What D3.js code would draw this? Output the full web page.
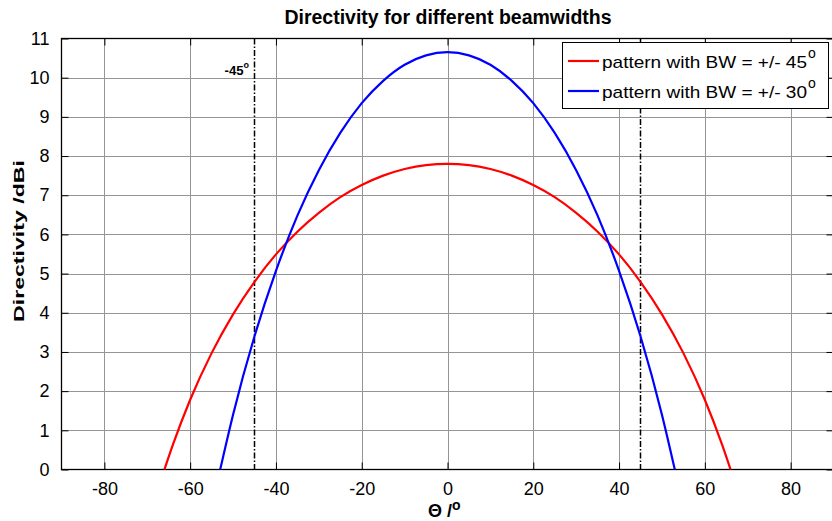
<!DOCTYPE html>
<html>
<head>
<meta charset="utf-8">
<script src="https://cdn.jsdelivr.net/npm/d3@7"></script>
<style>
  body { margin: 0; background: #fff; }
  text { font-family: Arial, "Liberation Sans", sans-serif; fill: #000; }
</style>
</head>
<body>
<script>
// values
const thetaRed = [-66, -64, -60, -55, -50, -45, -40, -35, -30, -25, -20, -15, -10, -5, 0,
                  5, 10, 15, 20, 25, 30, 35, 40, 45, 50, 55, 60, 64, 66];
const dirRed   = [0, 0.64, 1.78, 2.97, 3.96, 4.79, 5.49, 6.07, 6.55, 6.95, 7.26, 7.50, 7.67, 7.77, 7.80,
                  7.77, 7.67, 7.50, 7.26, 6.95, 6.55, 6.07, 5.49, 4.79, 3.96, 2.97, 1.78, 0.64, 0];
const thetaBlue = [-53, -50, -45, -40, -35, -30, -25, -20, -15, -10, -5, 0,
                   5, 10, 15, 20, 25, 30, 35, 40, 45, 50, 53];
const dirBlue   = [0, 1.40, 3.40, 5.07, 6.48, 7.64, 8.59, 9.35, 9.92, 10.33, 10.57, 10.65,
                   10.57, 10.33, 9.92, 9.35, 8.59, 7.64, 6.48, 5.07, 3.40, 1.40, 0];
const xTicks = [-80, -60, -40, -20, 0, 20, 40, 60, 80];
const yTicks = [0, 1, 2, 3, 4, 5, 6, 7, 8, 9, 10, 11];
const markers = [-45, 45];
const legendLabels = ["pattern with BW = +/- 45", "pattern with BW = +/- 30"];

const W = 832, H = 521;
const plotL = 61.5, plotR = 833.5, plotT = 38.5, plotB = 469.5;

const svg = d3.select("body").append("svg")
    .attr("width", W)
    .attr("height", H);

const x = d3.scaleLinear().domain([-90, 90]).range([plotL, plotR]);
const y = d3.scaleLinear().domain([0, 11]).range([plotB, plotT]);

// grid
const grid = svg.append("g").attr("stroke", "#959595").attr("stroke-width", 1);
grid.selectAll(".gx").data(xTicks).enter().append("line")
    .attr("x1", d => Math.round(x(d)) + 0.5).attr("x2", d => Math.round(x(d)) + 0.5)
    .attr("y1", plotT).attr("y2", plotB);
grid.selectAll(".gy").data(yTicks.slice(1, -1)).enter().append("line")
    .attr("x1", plotL).attr("x2", plotR)
    .attr("y1", d => Math.round(y(d)) + 0.5).attr("y2", d => Math.round(y(d)) + 0.5);

// axes (ticks pointing inward), plain hyphen for negatives
const tl = 7;
const fmt = d => String(d);
svg.append("g").attr("transform", "translate(0," + plotB + ")")
    .call(d3.axisBottom(x).tickValues(xTicks).tickFormat(fmt).tickSize(-tl).tickPadding(tl + 6).tickSizeOuter(0))
    .call(g => g.select(".domain").remove());
svg.append("g").attr("transform", "translate(0," + plotT + ")")
    .call(d3.axisTop(x).tickValues(xTicks).tickSize(-tl).tickFormat("").tickSizeOuter(0))
    .call(g => g.select(".domain").remove());
svg.append("g").attr("transform", "translate(" + plotL + ",0)")
    .call(d3.axisLeft(y).tickValues(yTicks).tickFormat(fmt).tickSize(-tl).tickPadding(tl + 5).tickSizeOuter(0))
    .call(g => g.select(".domain").remove());
svg.append("g").attr("transform", "translate(" + plotR + ",0)")
    .call(d3.axisRight(y).tickValues(yTicks).tickSize(-tl).tickFormat("").tickSizeOuter(0))
    .call(g => g.select(".domain").remove());

svg.selectAll(".tick line").attr("stroke", "#000");
svg.selectAll(".tick text")
    .attr("font-size", "18px")
    .style("font-family", "Arial, 'Liberation Sans', sans-serif");

// frame
svg.append("rect")
    .attr("x", plotL).attr("y", plotT)
    .attr("width", plotR - plotL).attr("height", plotB - plotT)
    .attr("fill", "none").attr("stroke", "#000").attr("stroke-width", 1.3);

// dash-dot markers
svg.selectAll(".marker").data(markers).enter().append("line")
    .attr("x1", d => x(d)).attr("x2", d => x(d))
    .attr("y1", plotT).attr("y2", plotB)
    .attr("stroke", "#000").attr("stroke-width", 1.5)
    .attr("stroke-dasharray", "6,2,1.5,2");

svg.append("text")
    .attr("x", x(-45) - 11).attr("y", 75)
    .attr("text-anchor", "end")
    .attr("font-size", "12px").attr("font-weight", "bold")
    .attr("textLength", 19).attr("lengthAdjust", "spacingAndGlyphs")
    .text("-45");
svg.append("text")
    .attr("x", x(-45) - 11).attr("y", 68)
    .attr("font-size", "9px").attr("font-weight", "bold")
    .text("o");

// curves
const line = d3.line()
    .x(d => x(d[0]))
    .y(d => y(d[1]))
    .curve(d3.curveMonotoneX);

svg.append("path")
    .datum(d3.zip(thetaRed, dirRed))
    .attr("d", line)
    .attr("fill", "none").attr("stroke", "#ff0000").attr("stroke-width", 2.2);
svg.append("path")
    .datum(d3.zip(thetaBlue, dirBlue))
    .attr("d", line)
    .attr("fill", "none").attr("stroke", "#0000ff").attr("stroke-width", 2.2);

// legend
const lg = svg.append("g");
lg.append("rect")
    .attr("x", 562.5).attr("y", 42.5).attr("width", 266).attr("height", 66)
    .attr("fill", "#fff").attr("stroke", "#000").attr("stroke-width", 1);
const legColors = ["#ff0000", "#0000ff"];
legendLabels.forEach((t, i) => {
  const yy = 61 + i * 30;
  lg.append("line")
    .attr("x1", 568).attr("x2", 599).attr("y1", yy).attr("y2", yy)
    .attr("stroke", legColors[i]).attr("stroke-width", 2.2);
  lg.append("text")
    .attr("x", 602).attr("y", yy + 7)
    .attr("font-size", "17px")
    .attr("textLength", 205).attr("lengthAdjust", "spacingAndGlyphs")
    .text(t);
  lg.append("text")
    .attr("x", 808).attr("y", yy - 3)
    .attr("font-size", "14px")
    .text("o");
});

// title and axis labels
svg.append("text")
    .attr("x", 448).attr("y", 24)
    .attr("text-anchor", "middle")
    .attr("font-size", "19.5px").attr("font-weight", "bold")
    .text("Directivity for different beamwidths");

svg.append("text")
    .attr("transform", "translate(24,241) rotate(-90)")
    .attr("text-anchor", "middle")
    .attr("font-size", "15px").attr("font-weight", "bold")
    .attr("textLength", 162).attr("lengthAdjust", "spacingAndGlyphs")
    .text("Directivity /dBi");

const xl = svg.append("text")
    .attr("x", 428).attr("y", 517)
    .attr("font-size", "18px").attr("font-weight", "bold");
xl.append("tspan").text("\u0398 /");
xl.append("tspan").attr("dy", -7).attr("font-size", "14px").text("o");
</script>
</body>
</html>
